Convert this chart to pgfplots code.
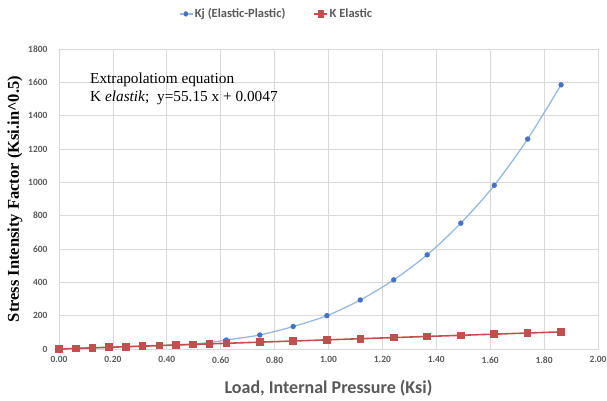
\documentclass[border=0pt]{standalone}
\usepackage{fontspec}
\usepackage{pgfplots}
\pgfplotsset{compat=1.18}
\setmainfont{Liberation Serif}
\newfontfamily\carlito{Carlito}
\definecolor{gridc}{RGB}{217,217,217}
\definecolor{tickc}{RGB}{89,89,89}
\definecolor{bline}{RGB}{150,185,225}
\definecolor{bmark}{RGB}{68,114,196}
\definecolor{rred}{RGB}{192,80,77}
\begin{document}
\begin{tikzpicture}
\begin{axis}[
  scale only axis,
  width=539bp, height=300bp,
  xmin=0, xmax=2, ymin=0, ymax=1800,
  xtick={0,0.2,...,2.01}, ytick={0,200,...,1800},
  grid=major, grid style={gridc, line width=0.8pt},
  axis line style={gridc, line width=0.8pt},
  tick style={draw=none},
  ticklabel style={font=\carlito\bfseries\fontsize{9.5bp}{11bp}\selectfont, text=tickc},
  /pgf/number format/assume math mode=true,
  xticklabel style={/pgf/number format/.cd, fixed, fixed zerofill, precision=2},
  yticklabel style={/pgf/number format/.cd, 1000 sep={}},
  xticklabel shift=4bp, yticklabel shift=8bp,
  xlabel={Load, Internal Pressure (Ksi)},
  xlabel style={font=\carlito\bfseries\fontsize{18bp}{20bp}\selectfont, text=tickc, at={(rel axis cs:0.5,-0.13)}, anchor=center},
  ylabel={Stress Intensity Factor (Ksi.in\^{}0.5)},
  ylabel style={font=\bfseries\fontsize{16.5bp}{18bp}\selectfont, at={(rel axis cs:-0.0816,0.5)}, anchor=center},
  legend columns=2,
  legend style={at={(rel axis cs:0.4035,1.117)}, anchor=center, draw=none, fill=none,
    font=\carlito\bfseries\fontsize{12.5bp}{14bp}\selectfont, text=tickc,
    /tikz/every even column/.append style={column sep=26bp}},
  legend image post style={xscale=0.75},
  legend cell align=left,
  clip=false,
]
\addplot[bline, line width=1.3pt, smooth, mark=*, mark size=2bp,
  mark options={fill=bmark, draw=bmark}] coordinates {
(0,0) (0.0621,3.4) (0.124,6.9) (0.186,10.3) (0.248,13.8) (0.310,17.3)
(0.373,20.8) (0.435,24.5) (0.497,30) (0.559,39) (0.621,54) (0.745,84)
(0.869,135) (0.994,200) (1.118,294) (1.242,415) (1.366,565) (1.491,755)
(1.615,982) (1.739,1260) (1.863,1585)
};
\addlegendentry{Kj (Elastic-Plastic)}
\addplot[rred, line width=1.6pt, mark=square*, mark size=3bp,
  mark options={fill=rred, draw=rred}] coordinates {
(0,0) (0.0621,3.4) (0.124,6.9) (0.186,10.3) (0.248,13.7) (0.310,17.1)
(0.373,20.6) (0.435,24.0) (0.497,27.4) (0.559,30.8) (0.621,34.3) (0.745,41.1)
(0.869,47.9) (0.994,54.8) (1.118,61.7) (1.242,68.5) (1.366,75.3) (1.491,82.2)
(1.615,89.1) (1.739,95.9) (1.863,102.7)
};
\addlegendentry{K Elastic}
\node[anchor=north west, align=left, font=\fontsize{15.3bp}{18bp}\selectfont, inner sep=0pt]
  at (rel axis cs:0.0575,0.92) {Extrapolatiom equation\\K \textit{elastik};\ \ y=55.15 x + 0.0047};
\coordinate (sw) at (rel axis cs:0,0);
\coordinate (ne) at (rel axis cs:1,1);
\end{axis}
\pgfresetboundingbox
\path[use as bounding box] ([shift={(-59bp,-52bp)}]sw) rectangle ([shift={(9bp,49bp)}]ne);
\end{tikzpicture}
\end{document}
